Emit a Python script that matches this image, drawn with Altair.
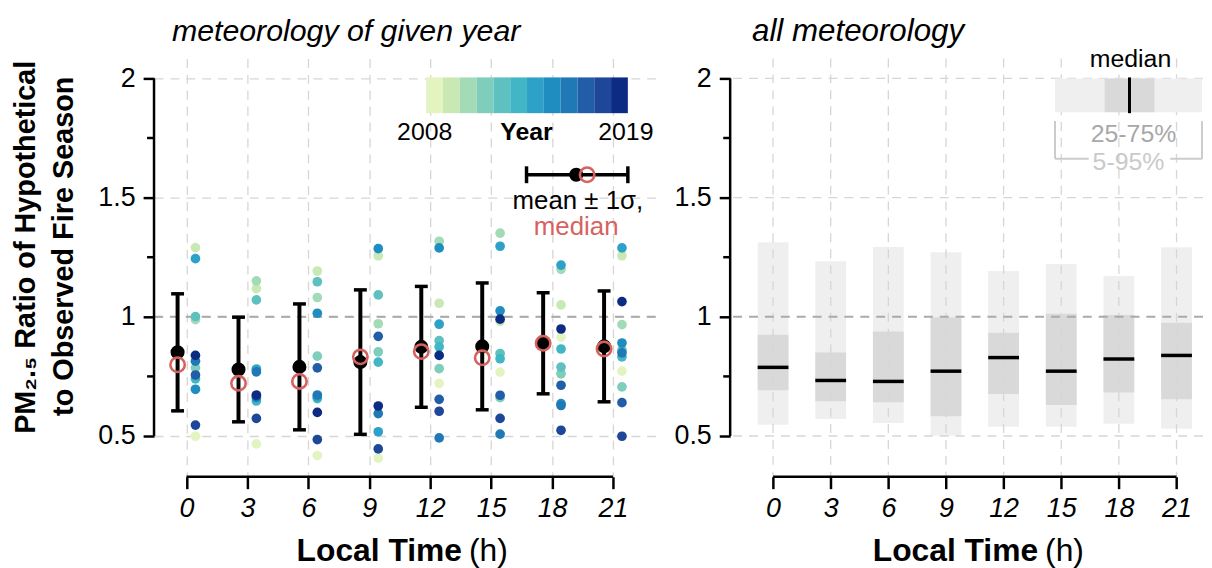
import altair as alt
import pandas as pd

FONT = "Liberation Sans"
RED = "#d6625f"

hours = [0, 3, 6, 9, 12, 15, 18, 21]
years = list(range(2008, 2020))
year_colors = ["#e3f4c1", "#c9e9b4", "#a4dbb7", "#7fcdbb", "#5fc0c0", "#41b6c4",
               "#2ea1c9", "#1f8dc0", "#2079b5", "#225ea8", "#1f4799", "#0c2c84"]

# ratio (meteorology of given year), one value per year 2008..2019
ratio_h00 = [0.499, 1.290, 0.988, 0.786, 1.001, 0.740, 1.244, 0.696, 0.814, 0.756, 0.546, 0.838]
ratio_h03 = [0.467, 1.118, 1.151, 0.782, 1.071, 0.647, 0.779, 0.661, 0.769, 0.668, 0.574, 0.672]
ratio_h06 = [0.418, 1.192, 1.081, 0.835, 1.147, 0.657, 0.665, 1.015, 0.672, 0.786, 0.485, 0.599]
ratio_h09 = [0.407, 1.256, 0.971, 0.853, 1.092, 0.810, 0.518, 1.286, 0.594, 0.918, 0.446, 0.626]
ratio_h12 = [0.721, 1.057, 1.317, 0.783, 0.900, 0.874, 0.969, 1.289, 0.492, 0.654, 0.604, 0.838]
ratio_h15 = [0.768, 0.981, 1.351, 0.661, 0.846, 0.824, 1.296, 1.025, 0.508, 0.671, 0.574, 0.990]
ratio_h18 = [0.915, 1.050, 1.199, 0.761, 0.789, 0.865, 1.217, 0.636, 0.628, 0.713, 0.524, 0.949]
ratio_h21 = [0.772, 1.256, 0.967, 0.706, 0.860, 0.832, 1.289, 0.890, 0.849, 0.640, 0.499, 1.064]
ratios = [ratio_h00, ratio_h03, ratio_h06, ratio_h09, ratio_h12, ratio_h15, ratio_h18, ratio_h21]

mean_ratio = [0.851, 0.779, 0.790, 0.810, 0.874, 0.876, 0.889, 0.876]
sd_ratio = [0.2455, 0.2195, 0.264, 0.303, 0.2535, 0.266, 0.212, 0.2325]
median_ratio = [0.799, 0.721, 0.729, 0.832, 0.854, 0.828, 0.889, 0.865]

# all meteorology percentiles
p05 = [0.547, 0.571, 0.555, 0.501, 0.539, 0.539, 0.551, 0.530]
p25 = [0.692, 0.646, 0.642, 0.583, 0.676, 0.630, 0.683, 0.654]
p50 = [0.788, 0.733, 0.729, 0.772, 0.829, 0.772, 0.823, 0.838]
p75 = [0.925, 0.850, 0.938, 0.997, 0.933, 1.013, 1.008, 0.975]
p95 = [1.313, 1.233, 1.293, 1.271, 1.192, 1.221, 1.171, 1.292]

y_major = [0.5, 1, 1.5, 2]
y_minor = [0.75, 1.25, 1.75]
y_light_grid = [0.5, 1.5, 2]

rows = []
for h, vals in zip(hours, ratios):
    for yr, v in zip(years, vals):
        rows.append({"hour": h, "year": yr, "ratio": v})
df_pts = pd.DataFrame(rows)
df_stat = pd.DataFrame({"hour": hours, "mean": mean_ratio, "sd": sd_ratio, "median": median_ratio})
df_q = pd.DataFrame({"hour": hours, "p05": p05, "p25": p25, "p50": p50, "p75": p75, "p95": p95})
df_years = pd.DataFrame({"year": years})
df_minor = pd.DataFrame({"v": y_minor})
df_hours = pd.DataFrame({"hour": hours})
df_hgrid = pd.DataFrame({"v": y_light_grid})
one = pd.DataFrame({"a": [0]})

H = 421
W1, W2 = 505, 476
GRID = "#d6d6d6"
ys = alt.Scale(domain=[0.3292, 2.0833], nice=False, zero=False)
xs1 = alt.Scale(domain=[-1.6, 23.1], nice=False, zero=False)
xs2 = alt.Scale(domain=[-1.974, 22.12], nice=False, zero=False)
color_scale = alt.Scale(domain=years, range=year_colors)


def x_axis(grid=True):
    return alt.Axis(values=hours, grid=grid, gridColor=GRID, gridDash=[9, 7], gridWidth=1.3,
                    domain=False, ticks=True, tickColor="black", tickWidth=2.5, tickSize=12,
                    labelFont=FONT, labelFontSize=27, labelFontStyle="italic", labelColor="black",
                    labelPadding=7, title=None)


def y_axis(grid=True):
    return alt.Axis(values=y_major, format="~g", grid=grid, gridColor=GRID, gridDash=[9, 7],
                    gridWidth=1.3, domain=False, ticks=True, tickColor="black", tickWidth=2.5,
                    tickSize=11, labelFont=FONT, labelFontSize=27, labelColor="black",
                    labelPadding=8, title=None)


def txt(s, x, y, size=25, color="black", weight="normal", style="normal", align="center", angle=0):
    return alt.Chart(one).mark_text(
        text=s, font=FONT, fontSize=size, color=color, fontWeight=weight, fontStyle=style,
        align=align, baseline="alphabetic", angle=angle
    ).encode(x=alt.value(x), y=alt.value(y))


def vrule(x, y1, y2, color="black", w=2.5):
    return alt.Chart(one).mark_rule(color=color, strokeWidth=w).encode(
        x=alt.value(x), y=alt.value(y1), y2=alt.value(y2))


def hrule(x1, x2, y, color="black", w=2.5):
    return alt.Chart(one).mark_rule(color=color, strokeWidth=w).encode(
        x=alt.value(x1), x2=alt.value(x2), y=alt.value(y))


def axis_frame(xs, xa, ya):
    one_line = alt.Chart(one).mark_rule(color="#aaaaaa", strokeWidth=2, strokeDash=[9, 7]).encode(
        y=alt.YDatum(1, scale=ys, axis=ya))
    xline = alt.Chart(one).mark_rule(color="black", strokeWidth=2.5).encode(
        x=alt.XDatum(0, scale=xs, axis=xa), x2=alt.X2Datum(21), y=alt.value(H))
    yline = alt.Chart(one).mark_rule(color="black", strokeWidth=2.5).encode(
        x=alt.value(0), y=alt.YDatum(0.5, scale=ys, axis=ya), y2=alt.Y2Datum(2))
    minor = alt.Chart(df_minor).mark_rule(color="black", strokeWidth=2.5).encode(
        x=alt.value(-7), x2=alt.value(0), y=alt.Y("v:Q", scale=ys, axis=ya))
    return one_line, xline, yline, minor


def x_title():
    return alt.layer(
        txt("Local Time", 310, 506, size=32, weight="bold", align="right"),
        txt("(h)", 317, 506, size=32, align="left"),
    )


# ---------------- left panel ----------------
xa1, ya1 = x_axis(True), y_axis(True)
X1 = alt.X("hour:Q", scale=xs1, axis=xa1)
one_line1, xline1, yline1, minor1 = axis_frame(xs1, xa1, ya1)

pts = alt.Chart(df_pts).mark_circle(size=95, opacity=1, xOffset=9).encode(
    x=X1, y=alt.Y("ratio:Q", scale=ys, axis=ya1),
    color=alt.Color("year:O", scale=color_scale, legend=None))

stat = alt.Chart(df_stat).transform_calculate(lo="datum.mean - datum.sd", hi="datum.mean + datum.sd")
ebar = stat.mark_rule(color="black", strokeWidth=4, xOffset=-9).encode(
    x=X1, y=alt.Y("lo:Q", scale=ys, axis=ya1), y2="hi:Q")
cap_lo = stat.mark_tick(color="black", orient="horizontal", size=13, thickness=3.5, opacity=1,
                        xOffset=-9).encode(x=X1, y=alt.Y("lo:Q", scale=ys, axis=ya1))
cap_hi = stat.mark_tick(color="black", orient="horizontal", size=13, thickness=3.5, opacity=1,
                        xOffset=-9).encode(x=X1, y=alt.Y("hi:Q", scale=ys, axis=ya1))
mean_pt = stat.mark_circle(color="black", size=200, opacity=1, xOffset=-9).encode(
    x=X1, y=alt.Y("mean:Q", scale=ys, axis=ya1))
med_pt = stat.mark_point(shape="circle", filled=False, color=RED, size=210, strokeWidth=2.6,
                         opacity=1, xOffset=-9).encode(
    x=X1, y=alt.Y("median:Q", scale=ys, axis=ya1))

main1 = alt.layer(one_line1, pts, ebar, cap_lo, cap_hi, mean_pt, med_pt, xline1, yline1, minor1)

legbar = alt.Chart(df_years).mark_rect().encode(
    x=alt.X("year:O", scale=alt.Scale(domain=years, range=[274, 477], paddingInner=0, paddingOuter=0),
            axis=None),
    y=alt.value(19), y2=alt.value(55),
    color=alt.Color("year:O", scale=color_scale, legend=None))

leg1 = alt.layer(
    txt("2008", 272.5, 82),
    txt("Year", 375, 82, weight="bold"),
    txt("2019", 475, 82),
    hrule(375, 477, 117, w=3.5),
    vrule(375, 108.5, 125.5, w=3.5),
    vrule(477, 108.5, 125.5, w=3.5),
    alt.Chart(one).mark_circle(color="black", size=200, opacity=1).encode(x=alt.value(425), y=alt.value(117)),
    alt.Chart(one).mark_point(shape="circle", filled=False, color=RED, size=210, strokeWidth=2.6,
                              opacity=1).encode(x=alt.value(436), y=alt.value(117)),
    txt("mean \u00b1 1\u03c3,", 426.7, 151, size=26),
    txt("median", 425, 178, size=26, color=RED),
)

ytitle = alt.layer(
    txt("PM\u2082.\u2085 Ratio of Hypothetical", -120, 190, size=29, weight="bold", angle=270),
    txt("to Observed Fire Season", -82, 189, size=29, weight="bold", angle=270),
)

title1 = txt("meteorology of given year", 18, -18, size=30.5, style="italic", align="left")

left = alt.layer(main1, legbar, leg1, ytitle, title1, x_title()).resolve_scale(
    x="independent").properties(width=W1, height=H)

# ---------------- right panel ----------------
xa2, ya2 = x_axis(False), y_axis(False)
X2 = alt.X("hour:Q", scale=xs2, axis=xa2)
one_line2, xline2, yline2, minor2 = axis_frame(xs2, xa2, ya2)

q = alt.Chart(df_q)
outer = q.mark_bar(width=31, color="#efefef", opacity=1).encode(
    x=X2, y=alt.Y("p05:Q", scale=ys, axis=ya2), y2="p95:Q")
inner = q.mark_bar(width=31, color="#d9d9d9", opacity=1).encode(
    x=X2, y=alt.Y("p25:Q", scale=ys, axis=ya2), y2="p75:Q")
vgrid = alt.Chart(df_hours).mark_rule(color=GRID, strokeWidth=1.3, strokeDash=[9, 7]).encode(x=X2)
hgrid = alt.Chart(df_hgrid).mark_rule(color=GRID, strokeWidth=1.3, strokeDash=[9, 7]).encode(
    y=alt.Y("v:Q", scale=ys, axis=ya2))
med = q.mark_tick(color="black", orient="horizontal", size=31, thickness=3.5, opacity=1).encode(
    x=X2, y=alt.Y("p50:Q", scale=ys, axis=ya2))

leg2 = alt.layer(
    alt.Chart(one).mark_rect(color="#efefef").encode(
        x=alt.value(327), x2=alt.value(475), y=alt.value(20), y2=alt.value(54)),
    alt.Chart(one).mark_rect(color="#d9d9d9").encode(
        x=alt.value(377), x2=alt.value(427), y=alt.value(20), y2=alt.value(54)),
    vrule(402, 19, 55, w=3),
    txt("median", 403, 9),
    txt("25-75%", 406, 84, color="#a8a8a8"),
    txt("5-95%", 401, 112, color="#cacaca"),
    vrule(327, 63, 101, color="#cccccc", w=2),
    vrule(475, 63, 101, color="#cccccc", w=2),
    hrule(327, 361, 101, color="#cccccc", w=2),
    hrule(443, 475, 101, color="#cccccc", w=2),
)

title2 = txt("all meteorology", 22, -18, size=31.5, style="italic", align="left")

right = alt.layer(outer, inner, vgrid, hgrid, one_line2, med, xline2, yline2, minor2, leg2, title2,
                  x_title()).properties(width=W2, height=H)

chart = alt.hconcat(left, right, spacing=17).properties(
    padding={"left": 4, "top": 6, "right": 0, "bottom": 0}
).configure_view(stroke=None)

chart.save("out.html", embed_options={"renderer": "svg", "actions": False})
